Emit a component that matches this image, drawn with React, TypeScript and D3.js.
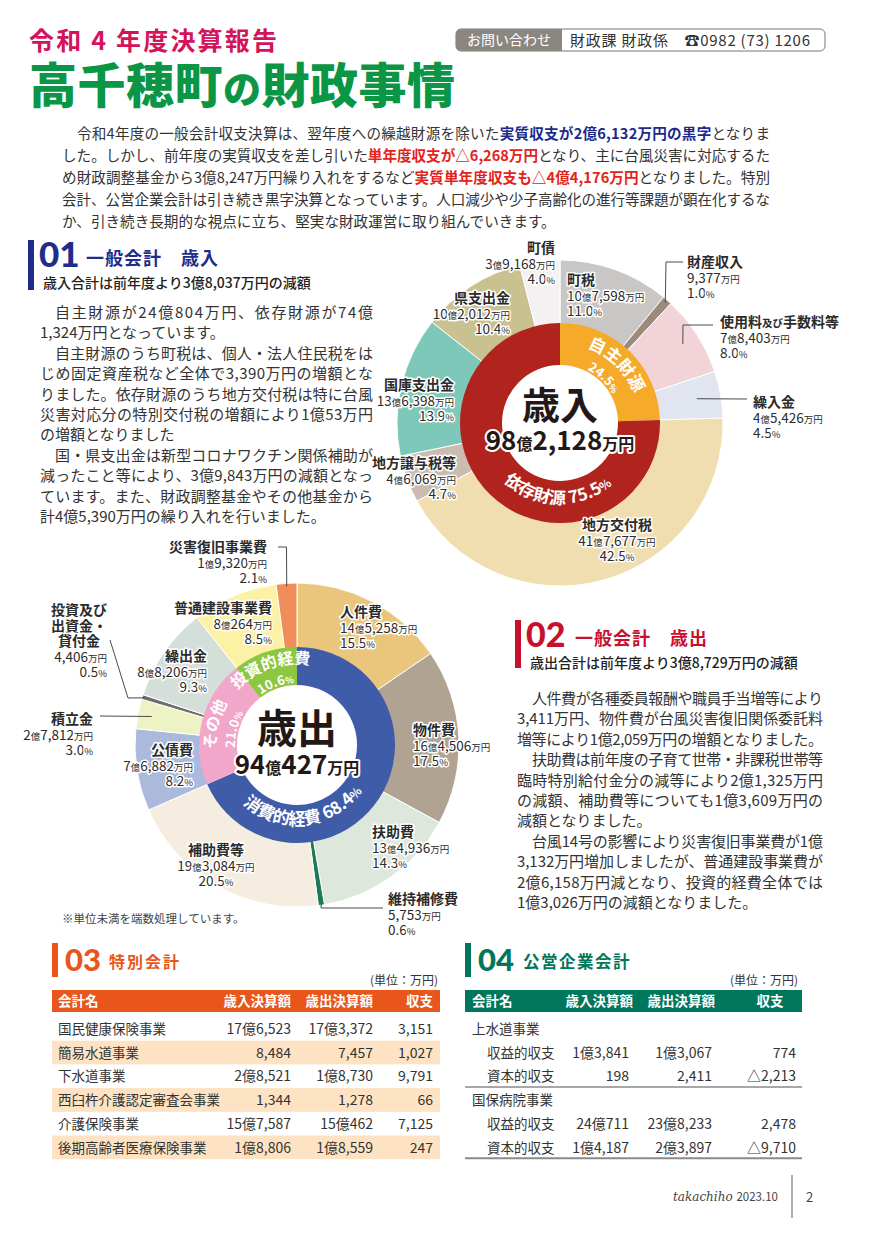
import React from "react";
import * as d3 from "d3";

const JP = "'Noto Sans CJK JP', 'Noto Sans', sans-serif";
const NUM = "Lato, 'Noto Sans CJK JP', sans-serif";
const W = 874;
const H = 1236;

// ===== 歳入 data (万円) =====
const revenueCategories = ["町税", "財産収入", "使用料及び手数料等", "繰入金", "地方交付税", "地方譲与税等", "国庫支出金", "県支出金", "町債"];
const revenueValues = [107598, 9377, 78403, 45426, 417677, 46069, 136398, 102012, 39168];
const revenueShares = [11.0, 1.0, 8.0, 4.5, 42.5, 4.7, 13.9, 10.4, 4.0];
const revenueGroups = ["自主財源", "依存財源"];
const revenueGroupMembers = [4, 5];
const revenueGroupShares = [24.5, 75.5];

// ===== 歳出 data (万円) =====
const expenditureCategories = ["人件費", "物件費", "扶助費", "維持補修費", "補助費等", "公債費", "積立金", "投資及び出資金・貸付金", "繰出金", "普通建設事業費", "災害復旧事業費"];
const expenditureValues = [145258, 164506, 134936, 5753, 193084, 76882, 27812, 4406, 88206, 80264, 19320];
const expenditureShares = [15.5, 17.5, 14.3, 0.6, 20.5, 8.2, 3.0, 0.5, 9.3, 8.5, 2.1];
const expenditureGroups = ["消費的経費", "その他", "投資的経費"];
const expenditureGroupMembers = [5, 4, 2];
const expenditureGroupShares = [68.4, 21.0, 10.6];

// ===== 特別会計 (万円) =====
const specialAccounts = ["国民健康保険事業", "簡易水道事業", "下水道事業", "西臼杵介護認定審査会事業", "介護保険事業", "後期高齢者医療保険事業"];
const specialRevenue = [176523, 8484, 28521, 1344, 157587, 18806];
const specialExpenditure = [173372, 7457, 18730, 1278, 150462, 18559];
const specialBalance = [3151, 1027, 9791, 66, 7125, 247];

// ===== 公営企業会計 (万円) =====
const enterpriseGroups = ["上水道事業", "国保病院事業"];
const enterpriseRows = ["収益的収支", "資本的収支"];
const enterpriseRevenue = [[13841, 198], [240711, 14187]];
const enterpriseExpenditure = [[13067, 2411], [238233, 23897]];
const enterpriseBalance = [[774, -2213], [2478, -9710]];

// ===== styles =====
const revenueColors = ["#c9c7c6", "#9c8b7d", "#f2d3d8", "#e1e5f0", "#f0deb1", "#cbbcb2", "#7ec8ba", "#c9c18f", "#f3f1f1"];
const revenueGroupColors = ["#f5aa2a", "#b1231d"];
const expenditureColors = ["#e9c67c", "#b1a392", "#dde7dc", "#1d7a58", "#f4ede0", "#aab9dc", "#eef3c5", "#6e6e6e", "#d5dfda", "#fdf1a6", "#f08d58"];
const expenditureGroupColors = ["#3f5ca8", "#f1a7c9", "#8dc641"];

type Anchor = "start" | "middle" | "end";
type LabelCfg = {
  dx: number; dy: number; anchor: Anchor;
  lines?: string[]; vdx?: number; vanchor?: Anchor;
  leader?: { r: number; pts: [number, number][] };
};

const revenueLabelLayout: LabelCfg[] = [
  { dx: 7, dy: -138, anchor: "start" },
  { dx: 127, dy: -156, anchor: "start", leader: { r: 160, pts: [[106, -161], [123, -161]] } },
  { dx: 160, dy: -96, anchor: "start", leader: { r: 146, pts: [[123, -98], [153, -98]] } },
  { dx: 193, dy: -16, anchor: "start", leader: { r: 139, pts: [[187, -24]] } },
  { dx: 57, dy: 107, anchor: "middle" },
  { dx: -104, dy: 45, anchor: "end" },
  { dx: -106, dy: -33, anchor: "end" },
  { dx: -50, dy: -120, anchor: "end" },
  { dx: -5, dy: -170, anchor: "end" },
];

const expenditureLabelLayout: LabelCfg[] = [
  { dx: 43, dy: -128, anchor: "start" },
  { dx: 116, dy: -10, anchor: "start" },
  { dx: 75, dy: 92, anchor: "start" },
  { dx: 91, dy: 159, anchor: "start", leader: { r: 161, pts: [[24, 163], [86, 163]] } },
  { dx: -81, dy: 110, anchor: "middle" },
  { dx: -104, dy: 10, anchor: "end" },
  { dx: -204, dy: -21, anchor: "end", leader: { r: 148, pts: [[-197, -29]] } },
  { dx: -218, dy: -130, anchor: "middle", lines: ["投資及び", "出資金・", "貸付金"], vdx: -190, vanchor: "end", leader: { r: 159, pts: [[-169, -47], [-187, -105]] } },
  { dx: -90, dy: -84, anchor: "end" },
  { dx: -25, dy: -132, anchor: "end" },
  { dx: -30, dy: -193, anchor: "end", leader: { r: 159, pts: [[-10.5, -198], [-19, -198]] } },
];

type InnerCfg = { angle?: number; inward: boolean; inline: boolean; nameR: number; pctR: number; nameSize: number; pctSize: number };
const revenueInnerLayout: InnerCfg[] = [
  { inward: false, inline: false, nameR: 80, pctR: 60, nameSize: 17, pctSize: 13 },
  { angle: 182, inward: true, inline: true, nameR: 81, pctR: 81, nameSize: 17, pctSize: 17 },
];
const expenditureInnerLayout: InnerCfg[] = [
  { angle: 174, inward: true, inline: true, nameR: 80, pctR: 80, nameSize: 17, pctSize: 17 },
  { inward: false, inline: false, nameR: 81, pctR: 62, nameSize: 16, pctSize: 13 },
  { inward: false, inline: false, nameR: 81, pctR: 62, nameSize: 16, pctSize: 13 },
];

// ===== helpers =====
function amountParts(v: number, unit = true) {
  const parts: { t: string; small: boolean }[] = [];
  const a = Math.abs(v);
  const oku = Math.floor(a / 10000);
  const man = a % 10000;
  if (oku > 0) { parts.push({ t: String(oku), small: false }); parts.push({ t: "億", small: true }); }
  if (man > 0 || oku === 0) parts.push({ t: d3.format(",")(man), small: false });
  if (unit) parts.push({ t: "万円", small: true });
  return parts;
}
function tableValue(v: number) {
  const a = Math.abs(v);
  const oku = Math.floor(a / 10000);
  const man = a % 10000;
  return (v < 0 ? "△" : "") + (oku > 0 ? oku + "億" : "") + (man > 0 || oku === 0 ? d3.format(",")(man) : "");
}
function polar(cx: number, cy: number, r: number, a: number): [number, number] {
  return [cx + r * Math.sin(a), cy - r * Math.cos(a)];
}
function arcTextPath(cx: number, cy: number, r: number, a: number, span: number, inward: boolean) {
  if (!inward) {
    const [x0, y0] = polar(cx, cy, r, a - span / 2);
    const [x1, y1] = polar(cx, cy, r, a + span / 2);
    return `M${x0},${y0} A${r},${r} 0 0 1 ${x1},${y1}`;
  }
  const [x0, y0] = polar(cx, cy, r, a + span / 2);
  const [x1, y1] = polar(cx, cy, r, a - span / 2);
  return `M${x0},${y0} A${r},${r} 0 0 0 ${x1},${y1}`;
}

const halo = { stroke: "#fff", strokeWidth: 3, paintOrder: "stroke" as const, strokeLinejoin: "round" as const };

type DonutProps = {
  id: string; cx: number; cy: number; rOuter: number; rRing: number; rHole: number;
  categories: string[]; values: number[]; shares: number[]; colors: string[];
  groups: string[]; groupMembers: number[]; groupShares: number[]; groupColors: string[];
  labelLayout: LabelCfg[]; innerLayout: InnerCfg[]; center: string; centerSize: number; centerY: number; totalY: number;
  smallOyobi: boolean;
};

function Donut(p: DonutProps) {
  const pie = d3.pie<number>().sort(null).value((d) => d);
  const arcs = pie(p.values);
  const outerArc = d3.arc<d3.PieArcDatum<number>>().innerRadius(p.rRing - 2).outerRadius(p.rOuter);
  let idx = 0;
  const groupSums = p.groupMembers.map((n) => { const s = d3.sum(p.values.slice(idx, idx + n)); idx += n; return s; });
  const gArcs = pie(groupSums);
  const ringArc = d3.arc<d3.PieArcDatum<number>>().innerRadius(p.rHole).outerRadius(p.rRing);
  const total = d3.sum(p.values);
  const gap = 15.5;

  return (
    <g>
      <g transform={`translate(${p.cx},${p.cy})`}>
        {arcs.map((a, i) => (
          <path key={i} d={outerArc(a) || ""} fill={p.colors[i]} stroke="#fff" strokeWidth={1} />
        ))}
        {gArcs.map((a, i) => (
          <path key={i} d={ringArc(a) || ""} fill={p.groupColors[i]} />
        ))}
      </g>
      {/* leaders */}
      {arcs.map((a, i) => {
        const cfg = p.labelLayout[i];
        if (!cfg.leader) return null;
        const mid = (a.startAngle + a.endAngle) / 2;
        const start = polar(p.cx, p.cy, cfg.leader.r, mid);
        const pts: [number, number][] = [start, ...cfg.leader.pts.map(([x, y]) => [p.cx + x, p.cy + y] as [number, number])];
        return <path key={i} d={d3.line()(pts) || ""} fill="none" stroke="#4a4a4a" strokeWidth={1} />;
      })}
      {/* inner ring labels */}
      {gArcs.map((a, i) => {
        const cfg = p.innerLayout[i];
        const mid = cfg.angle !== undefined ? (cfg.angle * Math.PI) / 180 : (a.startAngle + a.endAngle) / 2;
        const pidN = `${p.id}-n${i}`;
        const pidP = `${p.id}-p${i}`;
        const span = Math.PI * 0.95;
        const pct = p.groupShares[i].toFixed(1);
        return (
          <g key={i} fontFamily={JP} fontWeight={700} fill="#fff">
            <path id={pidN} d={arcTextPath(p.cx, p.cy, cfg.nameR, mid, span, cfg.inward)} fill="none" />
            {!cfg.inline && <path id={pidP} d={arcTextPath(p.cx, p.cy, cfg.pctR, mid, span, cfg.inward)} fill="none" />}
            <text fontSize={cfg.nameSize}>
              <textPath href={`#${pidN}`} startOffset="50%" textAnchor="middle">
                {p.groups[i]}
                {cfg.inline && (
                  <>
                    <tspan> {pct}</tspan>
                    <tspan fontSize={cfg.nameSize * 0.7}>%</tspan>
                  </>
                )}
              </textPath>
            </text>
            {!cfg.inline && (
              <text fontSize={cfg.pctSize}>
                <textPath href={`#${pidP}`} startOffset="50%" textAnchor="middle">
                  {pct}
                  <tspan fontSize={cfg.pctSize * 0.7}>%</tspan>
                </textPath>
              </text>
            )}
          </g>
        );
      })}
      {/* center */}
      <text x={p.cx} y={p.centerY} textAnchor="middle" fontFamily={JP} fontWeight={700} fontSize={p.centerSize} fill="#231815">{p.center}</text>
      <text x={p.cx} y={p.totalY} textAnchor="middle" fontFamily={JP} fontWeight={700} fontSize={26} fill="#231815" {...halo} strokeWidth={4}>
        {amountParts(total).map((q, k) => (
          <tspan key={k} fontSize={q.small ? 16 : 26}>{q.t}</tspan>
        ))}
      </text>
      {/* outer labels */}
      {arcs.map((a, i) => {
        const cfg = p.labelLayout[i];
        const x = p.cx + cfg.dx;
        const y = p.cy + cfg.dy;
        const name = p.categories[i];
        const nameLines = cfg.lines || [name];
        const vx = cfg.vdx !== undefined ? p.cx + cfg.vdx : x;
        const va = cfg.vanchor || cfg.anchor;
        const out: React.ReactNode[] = [];
        nameLines.forEach((ln, k) => {
          let content: React.ReactNode = ln;
          if (p.smallOyobi && ln.includes("及び")) {
            const [l, r] = ln.split("及び");
            content = (<>{l}<tspan fontSize={10.5}>及び</tspan>{r}</>);
          }
          out.push(
            <text key={`n${k}`} x={x} y={y + k * gap} textAnchor={cfg.anchor} fontSize={14} fontWeight={700} {...halo}>{content}</text>
          );
        });
        const ny = y + nameLines.length * gap;
        out.push(
          <text key="v" x={vx} y={ny} textAnchor={va} fontSize={13.5} {...halo}>
            {amountParts(p.values[i]).map((q, k) => (
              <tspan key={k} fontSize={q.small ? 9.5 : 13.5}>{q.t}</tspan>
            ))}
          </text>
        );
        out.push(
          <text key="p" x={vx} y={ny + gap} textAnchor={va} fontSize={13.5} {...halo}>
            {p.shares[i].toFixed(1)}<tspan fontSize={9.5}>%</tspan>
          </text>
        );
        return <g key={i} fontFamily={JP} fill="#2b2b2b">{out}</g>;
      })}
    </g>
  );
}

type Seg = [string, ("b" | "r")?];
const segStyle = (s?: "b" | "r") => s === "b" ? { fill: "#1b2a8c", fontWeight: 700 } : s === "r" ? { fill: "#e3231b", fontWeight: 700 } : {};

function Line({ x, y, len, segs, size }: { x: number; y: number; len?: number; segs: Seg[]; size: number }) {
  return (
    <text x={x} y={y} fontSize={size} fontFamily={JP} fill="#333" {...(len ? { textLength: len, lengthAdjust: "spacing" } : {})}>
      {segs.map((s, i) => <tspan key={i} {...segStyle(s[1])}>{s[0]}</tspan>)}
    </text>
  );
}

const introLines: { indent: boolean; full: boolean; segs: Seg[] }[] = [
  { indent: true, full: true, segs: [["令和4年度の一般会計収支決算は、翌年度への繰越財源を除いた"], ["実質収支が2億6,132万円の黒字", "b"], ["となりま"]] },
  { indent: false, full: true, segs: [["した。しかし、前年度の実質収支を差し引いた"], ["単年度収支が△6,268万円", "r"], ["となり、主に台風災害に対応するた"]] },
  { indent: false, full: true, segs: [["め財政調整基金から3億8,247万円繰り入れをするなど"], ["実質単年度収支も△4億4,176万円", "r"], ["となりました。特別"]] },
  { indent: false, full: true, segs: [["会計、公営企業会計は引き続き黒字決算となっています。人口減少や少子高齢化の進行等課題が顕在化するな"]] },
  { indent: false, full: false, segs: [["か、引き続き長期的な視点に立ち、堅実な財政運営に取り組んでいきます。"]] },
];

const body01: [boolean, boolean, string][] = [
  [true, true, "自主財源が24億804万円、依存財源が74億"],
  [false, false, "1,324万円となっています。"],
  [true, true, "自主財源のうち町税は、個人・法人住民税をは"],
  [false, true, "じめ固定資産税など全体で3,390万円の増額とな"],
  [false, true, "りました。依存財源のうち地方交付税は特に台風"],
  [false, true, "災害対応分の特別交付税の増額により1億53万円"],
  [false, false, "の増額となりました"],
  [true, true, "国・県支出金は新型コロナワクチン関係補助が"],
  [false, true, "減ったこと等により、3億9,843万円の減額となっ"],
  [false, true, "ています。また、財政調整基金やその他基金から"],
  [false, false, "計4億5,390万円の繰り入れを行いました。"],
];
const body02: [boolean, boolean, string][] = [
  [true, true, "人件費が各種委員報酬や職員手当増等により"],
  [false, true, "3,411万円、物件費が台風災害復旧関係委託料"],
  [false, true, "増等により1億2,059万円の増額となりました。"],
  [true, true, "扶助費は前年度の子育て世帯・非課税世帯等"],
  [false, true, "臨時特別給付金分の減等により2億1,325万円"],
  [false, true, "の減額、補助費等についても1億3,609万円の"],
  [false, false, "減額となりました。"],
  [true, true, "台風14号の影響により災害復旧事業費が1億"],
  [false, true, "3,132万円増加しましたが、普通建設事業費が"],
  [false, true, "2億6,158万円減となり、投資的経費全体では"],
  [false, false, "1億3,026万円の減額となりました。"],
];

function Body({ lines, x0, x1, y0, step, size }: { lines: [boolean, boolean, string][]; x0: number; x1: number; y0: number; step: number; size: number }) {
  return (
    <g>
      {lines.map(([ind, full, t], i) => {
        const x = ind ? x0 + size : x0;
        return <Line key={i} x={x} y={y0 + i * step} len={full ? x1 - x : undefined} segs={[[t]]} size={size} />;
      })}
    </g>
  );
}

function SectionHead({ x, y, num, title, sub, color, barH, numSize, titleX, titleSize, spacing }: any) {
  return (
    <g>
      <rect x={x} y={y} width={6} height={barH} fill={color} />
      <text x={x + 11} y={y + 27} fontFamily={NUM} fontWeight={900} fontSize={numSize} fill={color}>{num}</text>
      <text x={titleX} y={y + 25} fontFamily={JP} fontWeight={700} fontSize={titleSize} fill={color} letterSpacing={spacing}>{title}</text>
      {sub && <text x={x + 15} y={y + 48} fontFamily={JP} fontWeight={500} fontSize={14} fill="#222">{sub}</text>}
    </g>
  );
}

export default function App() {
  const rowH = 23.7;
  const specialCols = [291, 373, 433];
  const entCols = [629, 712, 796];
  return (
    <div style={{ position: "absolute", left: 0, top: 0, width: W, height: H, background: "#fff" }}>
      <svg width={W} height={H} viewBox={`0 0 ${W} ${H}`} style={{ display: "block" }}>
        <rect width={W} height={H} fill="#fff" />
        {/* header */}
        <text x={29} y={50} fontFamily={JP} fontWeight={700} fontSize={25} fill="#d3145a" textLength={248} lengthAdjust="spacing">令和 4 年度決算報告</text>
        <text x={29} y={103} fontFamily={JP} fontWeight={900} fontSize={48} fill="#0a9645" textLength={426} lengthAdjust="spacing">
          高千穂町<tspan fontSize={38}>の</tspan>財政事情
        </text>
        <rect x={456} y={29} width={369} height={22} rx={5} fill="#fff" stroke="#777" strokeWidth={1} />
        <path d="M461,29 H562 V51 H461 A5,5 0 0 1 456,46 V34 A5,5 0 0 1 461,29 Z" fill="#8c8680" />
        <text x={509} y={45} textAnchor="middle" fontFamily={JP} fontSize={14} fill="#fff">お問い合わせ</text>
        <text x={570} y={45.5} fontFamily={JP} fontSize={15} fill="#333" textLength={240} lengthAdjust="spacing">財政課 財政係　☎0982 (73) 1206</text>

        {/* intro */}
        {introLines.map((l, i) => {
          const x = l.indent ? 77 : 62;
          return <Line key={i} x={x} y={139 + i * 22} len={l.full ? 770 - x : undefined} segs={l.segs} size={14.6} />;
        })}

        {/* section 01 */}
        <SectionHead x={28} y={240} num="01" title="一般会計　歳入" sub="歳入合計は前年度より3億8,037万円の減額" color="#1e2d8c" barH={50} numSize={35} titleX={86} titleSize={18} spacing={1} />
        <Body lines={body01} x0={40} x1={373} y0={318} step={20.4} size={15} />

        <Donut id="rev" cx={560} cy={423} rOuter={163} rRing={100} rHole={58}
          categories={revenueCategories} values={revenueValues} shares={revenueShares} colors={revenueColors}
          groups={revenueGroups} groupMembers={revenueGroupMembers} groupShares={revenueGroupShares} groupColors={revenueGroupColors}
          labelLayout={revenueLabelLayout} innerLayout={revenueInnerLayout} center="歳入" centerSize={38} centerY={419} totalY={450} smallOyobi={true} />

        {/* section 02 */}
        <SectionHead x={515} y={620} num="02" title="一般会計　歳出" sub="歳出合計は前年度より3億8,729万円の減額" color="#c8102e" barH={48} numSize={34} titleX={575} titleSize={18} spacing={1} />
        <Body lines={body02} x0={517} x1={823} y0={704} step={20.4} size={15} />

        <Donut id="exp" cx={297} cy={745} rOuter={162} rRing={98} rHole={60}
          categories={expenditureCategories} values={expenditureValues} shares={expenditureShares} colors={expenditureColors}
          groups={expenditureGroups} groupMembers={expenditureGroupMembers} groupShares={expenditureGroupShares} groupColors={expenditureGroupColors}
          labelLayout={expenditureLabelLayout} innerLayout={expenditureInnerLayout} center="歳出" centerSize={40} centerY={743} totalY={774} smallOyobi={false} />

        <text x={62} y={923} fontFamily={JP} fontSize={11.5} fill="#444">※単位未満を端数処理しています。</text>

        {/* section 03 */}
        <rect x={52} y={943} width={6} height={34} fill="#e8561c" />
        <text x={65} y={971} fontFamily={NUM} fontWeight={900} fontSize={31} fill="#e8561c">03</text>
        <text x={109} y={968} fontFamily={JP} fontWeight={700} fontSize={16} fill="#e8561c" letterSpacing={2}>特別会計</text>
        <text x={438} y={985} textAnchor="end" fontFamily={JP} fontSize={12} fill="#333">(単位：万円)</text>
        <rect x={52} y={990} width={388} height={22} fill="#e8561c" />
        <g fontFamily={JP} fontWeight={700} fontSize={13.5} fill="#fff">
          <text x={58} y={1006}>会計名</text>
          <text x={specialCols[0]} y={1006} textAnchor="end">歳入決算額</text>
          <text x={specialCols[1]} y={1006} textAnchor="end">歳出決算額</text>
          <text x={specialCols[2]} y={1006} textAnchor="end">収支</text>
        </g>
        {specialAccounts.map((name, i) => {
          const top = 1017 + i * rowH;
          return (
            <g key={i} fontFamily={JP} fontSize={14} fill="#333">
              {i % 2 === 1 && <rect x={52} y={top} width={388} height={rowH} fill="#fde3c4" />}
              <text x={58} y={top + 17} fontSize={13.5}>{name}</text>
              <text x={specialCols[0]} y={top + 17} textAnchor="end">{tableValue(specialRevenue[i])}</text>
              <text x={specialCols[1]} y={top + 17} textAnchor="end">{tableValue(specialExpenditure[i])}</text>
              <text x={specialCols[2]} y={top + 17} textAnchor="end">{tableValue(specialBalance[i])}</text>
            </g>
          );
        })}

        {/* section 04 */}
        <rect x={465} y={943} width={6} height={34} fill="#00775b" />
        <text x={478} y={971} fontFamily={NUM} fontWeight={900} fontSize={31} fill="#00775b">04</text>
        <text x={523} y={968} fontFamily={JP} fontWeight={700} fontSize={16.5} fill="#00775b" letterSpacing={1.5}>公営企業会計</text>
        <text x={798} y={985} textAnchor="end" fontFamily={JP} fontSize={12} fill="#333">(単位：万円)</text>
        <rect x={465} y={990} width={337} height={22} fill="#00775b" />
        <g fontFamily={JP} fontWeight={700} fontSize={13.5} fill="#fff">
          <text x={472} y={1006}>会計名</text>
          <text x={633} y={1006} textAnchor="end">歳入決算額</text>
          <text x={715} y={1006} textAnchor="end">歳出決算額</text>
          <text x={770} y={1006} textAnchor="middle">収支</text>
        </g>
        {enterpriseGroups.map((g, gi) => {
          const base = 1017 + gi * 3 * rowH;
          return (
            <g key={gi} fontFamily={JP} fontSize={14} fill="#333">
              <text x={472} y={base + 17} fontSize={13.5}>{g}</text>
              {enterpriseRows.map((r, ri) => {
                const top = base + (ri + 1) * rowH;
                return (
                  <g key={ri}>
                    <text x={487} y={top + 17} fontSize={13.5}>{r}</text>
                    <text x={entCols[0]} y={top + 17} textAnchor="end">{tableValue(enterpriseRevenue[gi][ri])}</text>
                    <text x={entCols[1]} y={top + 17} textAnchor="end">{tableValue(enterpriseExpenditure[gi][ri])}</text>
                    <text x={entCols[2]} y={top + 17} textAnchor="end">{tableValue(enterpriseBalance[gi][ri])}</text>
                  </g>
                );
              })}
              <line x1={465} x2={802} y1={base + 3 * rowH - 1} y2={base + 3 * rowH - 1} stroke="#8a8a8a" strokeWidth={gi === 1 ? 2 : 1.5} />
            </g>
          );
        })}

        {/* footer */}
        <text x={673} y={1201} fontFamily="'DejaVu Serif', serif" fontStyle="italic" fontSize={12} fill="#444">takachiho <tspan fontFamily={JP} fontStyle="normal" fontSize={11.5}>2023.10</tspan></text>
        <line x1={792} x2={792} y1={1175} y2={1218} stroke="#777" strokeWidth={1.2} />
        <text x={806} y={1202} fontFamily={JP} fontSize={13} fill="#444">2</text>
      </svg>
    </div>
  );
}
